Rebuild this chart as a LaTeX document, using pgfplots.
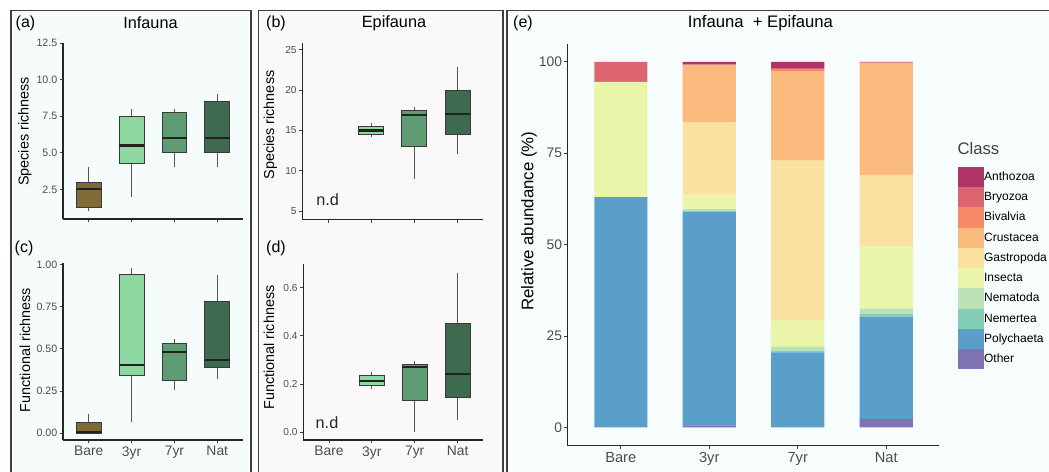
\documentclass[border=0pt]{standalone}
\usepackage{fontspec}
\setmainfont{Liberation Sans}
\usepackage{pgfplots}
\pgfplotsset{compat=1.18}
\usepgfplotslibrary{statistics}

% panel backgrounds and lines
\definecolor{bgA}{HTML}{F6FCFC}
\definecolor{bgB}{HTML}{FAF8F8}
\definecolor{bgE}{HTML}{F7FDFD}
\definecolor{frame}{HTML}{404040}
\definecolor{tickgray}{HTML}{4D4D4D}
\definecolor{boxline}{HTML}{3A3A3A}
\definecolor{whiskgray}{HTML}{555555}
\definecolor{medblack}{HTML}{222222}
% treatments
\definecolor{cBare}{HTML}{806A37}
\definecolor{cThree}{HTML}{8DD7A1}
\definecolor{cSeven}{HTML}{5F9B73}
\definecolor{cNat}{HTML}{3E6A4F}
% classes (Spectral, alpha 0.8)
\definecolor{cAnth}{HTML}{B13468}
\definecolor{cBryo}{HTML}{DD6572}
\definecolor{cBiva}{HTML}{F68A69}
\definecolor{cCrus}{HTML}{FABA7D}
\definecolor{cGast}{HTML}{FAE19F}
\definecolor{cInse}{HTML}{EAF5AA}
\definecolor{cNema}{HTML}{BAE2B5}
\definecolor{cNemr}{HTML}{84CDB6}
\definecolor{cPoly}{HTML}{5A9FC9}
\definecolor{cOthr}{HTML}{7E72B5}

\pgfplotsset{
  panel/.style={
    scale only axis,
    axis x line*=bottom, axis y line*=left,
    axis line style={black!85, line width=0.8pt},
    tick align=outside, major tick length=2.6pt,
    major tick style={black!75, line width=0.6pt},
    xmin=0.4, xmax=4.6, xtick={1,2,3,4},
    clip=false,
    /pgf/number format/assume math mode=true,
    yticklabel style={font=\fontsize{8}{8}\selectfont, text=tickgray, inner sep=1.5pt},
    xticklabel style={font=\fontsize{10.4}{10.4}\selectfont, text=tickgray, inner sep=2pt},
    boxplot/draw direction=y,
    boxplot/whisker extend=0,
    boxplot/every whisker/.style={whiskgray, line width=0.7pt},
    boxplot/every median/.style={medblack, line width=1.6pt},
    boxplot/every box/.style={line width=0.6pt},
  },
}

\begin{document}
\begin{tikzpicture}
% panel frames, in pixel units measured upward from the bottom
\begin{scope}[x=0.75pt, y=0.75pt]
\filldraw[fill=bgA, draw=frame, line width=0.8pt] (11,-5) rectangle (251,460.3);
\filldraw[fill=bgB, draw=frame, line width=0.8pt] (258.5,-5) rectangle (503,460.3);
\filldraw[fill=bgE, draw=frame, line width=0.8pt] (507,-5) rectangle (1060,460.3);
\end{scope}

% (a) infauna species richness
\begin{axis}[panel, at={(63*0.75pt,252*0.75pt)}, anchor=south west,
    width=135pt, height=132.2pt,
    ymin=0.47, ymax=12.54,
    ytick={2.5,5,7.5,10,12.5}, yticklabels={2.5,5.0,7.5,10.0,12.5},
    xticklabels={}]
\addplot[boxplot prepared={draw position=1, lower whisker=1, lower quartile=1.25,
    median=2.5, upper quartile=3, upper whisker=4, box extend=0.58},
    fill=cBare, draw=boxline] coordinates {};
\addplot[boxplot prepared={draw position=2, lower whisker=2, lower quartile=4.25,
    median=5.5, upper quartile=7.5, upper whisker=8, box extend=0.58},
    fill=cThree, draw=boxline] coordinates {};
\addplot[boxplot prepared={draw position=3, lower whisker=4, lower quartile=5,
    median=6, upper quartile=7.75, upper whisker=8, box extend=0.58},
    fill=cSeven, draw=boxline] coordinates {};
\addplot[boxplot prepared={draw position=4, lower whisker=4, lower quartile=5,
    median=6, upper quartile=8.5, upper whisker=9, box extend=0.58},
    fill=cNat, draw=boxline] coordinates {};
\end{axis}

% (c) infauna functional richness
\begin{axis}[panel, at={(63*0.75pt,31*0.75pt)}, anchor=south west,
    width=135pt, height=132.5pt,
    ymin=-0.04, ymax=1.006,
    ytick={0,0.25,0.5,0.75,1}, yticklabels={0.00,0.25,0.50,0.75,1.00},
    xticklabels={Bare,3yr,7yr,Nat}]
\addplot[boxplot prepared={draw position=1, lower whisker=0, lower quartile=0,
    median=0.005, upper quartile=0.065, upper whisker=0.115, box extend=0.58},
    fill=cBare, draw=boxline] coordinates {};
\addplot[boxplot prepared={draw position=2, lower whisker=0.065, lower quartile=0.345,
    median=0.404, upper quartile=0.94, upper whisker=0.98, box extend=0.58},
    fill=cThree, draw=boxline] coordinates {};
\addplot[boxplot prepared={draw position=3, lower whisker=0.258, lower quartile=0.313,
    median=0.483, upper quartile=0.533, upper whisker=0.556, box extend=0.58},
    fill=cSeven, draw=boxline] coordinates {};
\addplot[boxplot prepared={draw position=4, lower whisker=0.321, lower quartile=0.39,
    median=0.434, upper quartile=0.783, upper whisker=0.937, box extend=0.58},
    fill=cNat, draw=boxline] coordinates {};
\end{axis}

% (b) epifauna species richness
\begin{axis}[panel, at={(302.3*0.75pt,251.7*0.75pt)}, anchor=south west,
    width=135.75pt, height=132.5pt,
    ymin=3.97, ymax=25.9,
    ytick={5,10,15,20,25}, yticklabels={5,10,15,20,25},
    yticklabel style={font=\fontsize{7.6}{7.6}\selectfont},
    xticklabels={}]
\addplot[boxplot prepared={draw position=2, lower whisker=14.15, lower quartile=14.45,
    median=15, upper quartile=15.47, upper whisker=15.9, box extend=0.58},
    fill=cThree, draw=boxline] coordinates {};
\addplot[boxplot prepared={draw position=3, lower whisker=9, lower quartile=13,
    median=16.95, upper quartile=17.46, upper whisker=17.9, box extend=0.58},
    fill=cSeven, draw=boxline] coordinates {};
\addplot[boxplot prepared={draw position=4, lower whisker=12.04, lower quartile=14.5,
    median=17, upper quartile=19.95, upper whisker=22.9, box extend=0.58},
    fill=cNat, draw=boxline] coordinates {};
\end{axis}

% (d) epifauna functional richness
\begin{axis}[panel, at={(303.3*0.75pt,31*0.75pt)}, anchor=south west,
    width=135pt, height=131.8pt,
    ymin=-0.032, ymax=0.697,
    ytick={0,0.2,0.4,0.6}, yticklabels={0.0,0.2,0.4,0.6},
    yticklabel style={font=\fontsize{7.6}{7.6}\selectfont},
    xticklabels={Bare,3yr,7yr,Nat}]
\addplot[boxplot prepared={draw position=2, lower whisker=0.18, lower quartile=0.193,
    median=0.214, upper quartile=0.236, upper whisker=0.251, box extend=0.58},
    fill=cThree, draw=boxline] coordinates {};
\addplot[boxplot prepared={draw position=3, lower whisker=0.002, lower quartile=0.134,
    median=0.272, upper quartile=0.283, upper whisker=0.296, box extend=0.58},
    fill=cSeven, draw=boxline] coordinates {};
\addplot[boxplot prepared={draw position=4, lower whisker=0.051, lower quartile=0.145,
    median=0.24, upper quartile=0.452, upper whisker=0.662, box extend=0.58},
    fill=cNat, draw=boxline] coordinates {};
\end{axis}

% (e) relative abundance by class
\begin{axis}[panel, at={(567.7*0.75pt,25.3*0.75pt)}, anchor=south west,
    width=278.7pt, height=301pt,
    ybar stacked, bar width=0.6,
    ymin=-5.04, ymax=104.8,
    ytick={0,25,50,75,100}, yticklabels={0,25,50,75,100},
    yticklabel style={font=\fontsize{10.4}{10.4}\selectfont},
    xticklabel style={font=\fontsize{11}{11}\selectfont},
    xticklabels={Bare,3yr,7yr,Nat},
    reverse legend,
    legend cell align=left,
    legend image code/.code={%
      \path (0pt,-7.6pt) rectangle (19.5pt,7.6pt);
      \fill[#1] (0pt,-6.7pt) rectangle (13.5pt,6.7pt);},
    legend style={at={(axis cs:4.81,71.37)}, anchor=north west,
      draw=none, fill=none, inner sep=0pt, row sep=0pt,
      font=\fontsize{9}{9}\selectfont,
      nodes={inner sep=0pt},
      /tikz/every even column/.append style={text height=6.6pt, text depth=0pt}},
  ]
\addplot[fill=cOthr, draw=none] coordinates {(1,0) (2,0.5) (3,0) (4,2.2)};
\addlegendentry{Other}
\addplot[fill=cPoly, draw=none] coordinates {(1,63) (2,58.5) (3,20.5) (4,28.1)};
\addlegendentry{Polychaeta}
\addplot[fill=cNemr, draw=none] coordinates {(1,0) (2,0.3) (3,0.5) (4,0.7)};
\addlegendentry{Nemertea}
\addplot[fill=cNema, draw=none] coordinates {(1,0) (2,0.4) (3,1.0) (4,1.5)};
\addlegendentry{Nematoda}
\addplot[fill=cInse, draw=none] coordinates {(1,31.5) (2,4.0) (3,7.2) (4,17.0)};
\addlegendentry{Insecta}
\addplot[fill=cGast, draw=none] coordinates {(1,0) (2,19.9) (3,43.8) (4,19.6)};
\addlegendentry{Gastropoda}
\addplot[fill=cCrus, draw=none] coordinates {(1,0) (2,15.4) (3,24.5) (4,30.6)};
\addlegendentry{Crustacea}
\addplot[fill=cBiva, draw=none] coordinates {(1,0) (2,0.2) (3,0.5) (4,0)};
\addlegendentry{Bivalvia}
\addplot[fill=cBryo, draw=none] coordinates {(1,5.5) (2,0.1) (3,0.3) (4,0.2)};
\addlegendentry{Bryozoa}
\addplot[fill=cAnth, draw=none] coordinates {(1,0) (2,0.7) (3,1.7) (4,0.1)};
\addlegendentry{Anthozoa}
\end{axis}

\begin{scope}[x=0.75pt, y=0.75pt]
% panel tags and titles
\node[font=\fontsize{12}{12}\selectfont] at (25.5,448) {(a)};
\node[font=\fontsize{12.2}{12.2}\selectfont] at (150.5,448) {Infauna};
\node[font=\fontsize{12}{12}\selectfont] at (276,448) {(b)};
\node[font=\fontsize{12.2}{12.2}\selectfont] at (394,448) {Epifauna};
\node[font=\fontsize{12}{12}\selectfont] at (24,223) {(c)};
\node[font=\fontsize{12}{12}\selectfont] at (276,223) {(d)};
\node[font=\fontsize{12}{12}\selectfont] at (523,448) {(e)};
\node[font=\fontsize{12.5}{12.5}\selectfont] at (760.5,448) {Infauna\ \ + Epifauna};

% axis titles
\node[rotate=90, font=\fontsize{10.8}{10.8}\selectfont] at (25,339.5) {Species richness};
\node[rotate=90, font=\fontsize{10.8}{10.8}\selectfont] at (25,121) {Functional richness};
\node[rotate=90, font=\fontsize{10.8}{10.8}\selectfont] at (270.5,346) {Species richness};
\node[rotate=90, font=\fontsize{10.8}{10.8}\selectfont] at (269,123.5) {Functional richness};
\node[rotate=90, font=\fontsize{12.6}{12.6}\selectfont] at (529,249.8) {Relative abundance (\%)};

% not determined markers
\node[font=\fontsize{12.2}{12.2}\selectfont, text=black!85] at (327.7,271) {n.d};
\node[font=\fontsize{12.2}{12.2}\selectfont, text=black!85] at (327,48.7) {n.d};

% legend title
\node[anchor=west, font=\fontsize{12.5}{12.5}\selectfont, text=black!75, inner sep=0pt] at (957.3,322.7) {Class};

\pgfresetboundingbox
\path[use as bounding box] (0,0) rectangle (1049,471);
\end{scope}
\end{tikzpicture}
\end{document}
